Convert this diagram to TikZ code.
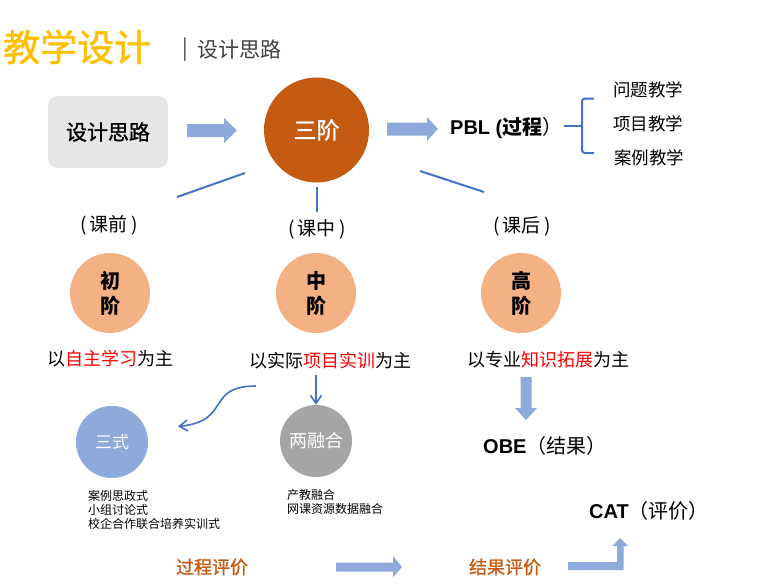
\documentclass[tikz,border=0pt]{standalone}
\usepackage{fontspec}
\setmainfont{Noto Sans CJK SC}
\newfontfamily\latf{Liberation Sans}
\newfontfamily\medf{Noto Sans CJK SC}[FakeBold=1.2]
\usetikzlibrary{arrows.meta}
\definecolor{titleY}{HTML}{FFC000}
\definecolor{darkO}{HTML}{C55A11}
\definecolor{lightO}{HTML}{F4B183}
\definecolor{blockB}{HTML}{8EAADB}
\definecolor{lineB}{HTML}{4472C4}
\definecolor{boxG}{HTML}{E7E6E6}
\definecolor{circG}{HTML}{A5A5A5}
\definecolor{txtG}{HTML}{404040}
\definecolor{hiR}{HTML}{FF0000}
\tikzset{
  fs/.style={font=\fontsize{#1}{#1}\selectfont},
  bigcirc/.style={circle,fill=darkO,minimum size=105pt,inner sep=0pt,text=white},
  stagecirc/.style={circle,fill=lightO,minimum size=80pt,inner sep=0pt,align=center,font=\fontsize{20}{25}\selectfont\bfseries},
  smallcirc/.style={circle,minimum size=72pt,inner sep=0pt,text=white,fs=17},
  link/.style={draw=lineB,line width=2pt},
  thinarrow/.style={draw=lineB,line width=1.6pt,-{Straight Barb[length=8pt,width=11pt,line width=1.6pt]}},
  blockarrow/.style={fill=blockB,draw=none},
  listtxt/.style={anchor=west,fs=12,inner sep=0pt},
}
\begin{document}
\begin{tikzpicture}[x=1pt,y=-1pt]
\useasboundingbox (0,0) rectangle (782,586);
\fill[white] (0,0) rectangle (782,586);
% title
\node[text=titleY,fs=37,anchor=west,inner sep=0pt] (title) at (3,47) {\medf 教学设计};
\node[text=txtG,fs=21,anchor=west,inner sep=0pt] (bar) at (182,50) {|};
\node[text=txtG,fs=21,anchor=west,inner sep=0pt] (subtitle) at (197,50) {设计思路};
% top row
\node[fill=boxG,rounded corners=10pt,minimum width=120pt,minimum height=72pt,inner sep=0pt,fs=21] (box) at (108,132) {\medf 设计思路};
\node[bigcirc,fs=23] (san) at (316.5,130) {\medf 三阶};
\fill[blockarrow] (187,124) -- (224,124) -- (224,118) -- (237,130.5) -- (224,143) -- (224,137) -- (187,137) -- cycle;
\fill[blockarrow] (387,122.5) -- (427,122.5) -- (427,117) -- (438,129) -- (427,141) -- (427,135.5) -- (387,135.5) -- cycle;
\node[anchor=west,inner sep=0pt,fs=20] (pbl) at (450,128) {{\latf\bfseries PBL (}\bfseries 过程{\normalfont）}};
\coordinate (br0) at (564,126);
\coordinate (brm) at (582,126);
\draw[draw=lineB,line width=2pt] (br0) -- (brm);
\draw[draw=lineB,line width=2pt,rounded corners=3pt] (594,98.5) -- (582,98.5) -- (582,153) -- (594,153);
\node[fs=17.5] (m1) at (648,90) {问题教学};
\node[fs=17.5] (m2) at (648,124) {项目教学};
\node[fs=17.5] (m3) at (649,158) {案例教学};
% branch lines
\coordinate (l1a) at (245,173); \coordinate (l1b) at (177,197);
\coordinate (l2a) at (317,187); \coordinate (l2b) at (317,212);
\coordinate (l3a) at (420,171); \coordinate (l3b) at (484,192);
\draw[link] (l1a) -- (l1b);
\draw[link] (l2a) -- (l2b);
\draw[link] (l3a) -- (l3b);
% stage labels
\node[fs=19] (pre) at (109,225) {(\,课前\,)};
\node[fs=19] (mid) at (317,229) {(\,课中\,)};
\node[fs=19] (post) at (522,226) {(\,课后\,)};
\node[stagecirc] (c1) at (110,293) {初\\阶};
\node[stagecirc] (c2) at (316,293) {中\\阶};
\node[stagecirc] (c3) at (521,293) {高\\阶};
\node[fs=18] (d1) at (110,359) {以\textcolor{hiR}{自主学习}为主};
\node[fs=18] (d2) at (330,361) {以实际\textcolor{hiR}{项目实训}为主};
\node[fs=18] (d3) at (548,360) {以专业\textcolor{hiR}{知识拓展}为主};
% lower circles
\node[smallcirc,fill=blockB] (sanshi) at (112,442) {三式};
\node[smallcirc,fill=circG,fs=18] (liang) at (316,441) {两融合};
\coordinate (va) at (316,375);
\draw[thinarrow] (va) -- (liang.north);
\coordinate (ca) at (256,386);
\coordinate (cb) at (178,426.5);
\draw[thinarrow] (ca) .. controls (205,386) and (232,421) .. (cb);
\node[listtxt] (s1) at (88,496) {案例思政式};
\node[listtxt] (s2) at (88,510) {小组讨论式};
\node[listtxt] (s3) at (88,524) {校企合作联合培养实训式};
\node[listtxt] (r1) at (287,495) {产教融合};
\node[listtxt] (r2) at (287,509) {网课资源数据融合};
% OBE
\fill[blockarrow] (520.5,377) -- (531.5,377) -- (531.5,408) -- (537,408) -- (526,420) -- (515,408) -- (520.5,408) -- cycle;
\node[anchor=west,inner sep=0pt,fs=20] (obe) at (483,446) {{\latf\bfseries OBE}（结果）};
\node[anchor=west,inner sep=0pt,fs=20] (cat) at (589,511) {{\latf\bfseries CAT}（评价）};
% bottom
\node[text=darkO,fs=18] (gc) at (212,567) {\medf 过程评价};
\fill[blockarrow] (336,562.5) -- (393,562.5) -- (393,556) -- (402,567) -- (393,577.5) -- (393,571.5) -- (336,571.5) -- cycle;
\node[text=darkO,fs=18] (jg) at (505,567) {\medf 结果评价};
\fill[blockarrow] (568,562) -- (617,562) -- (617,546) -- (612.5,546) -- (620,538) -- (628,546) -- (623.5,546) -- (623.5,570) -- (568,570) -- cycle;
\end{tikzpicture}
\end{document}
